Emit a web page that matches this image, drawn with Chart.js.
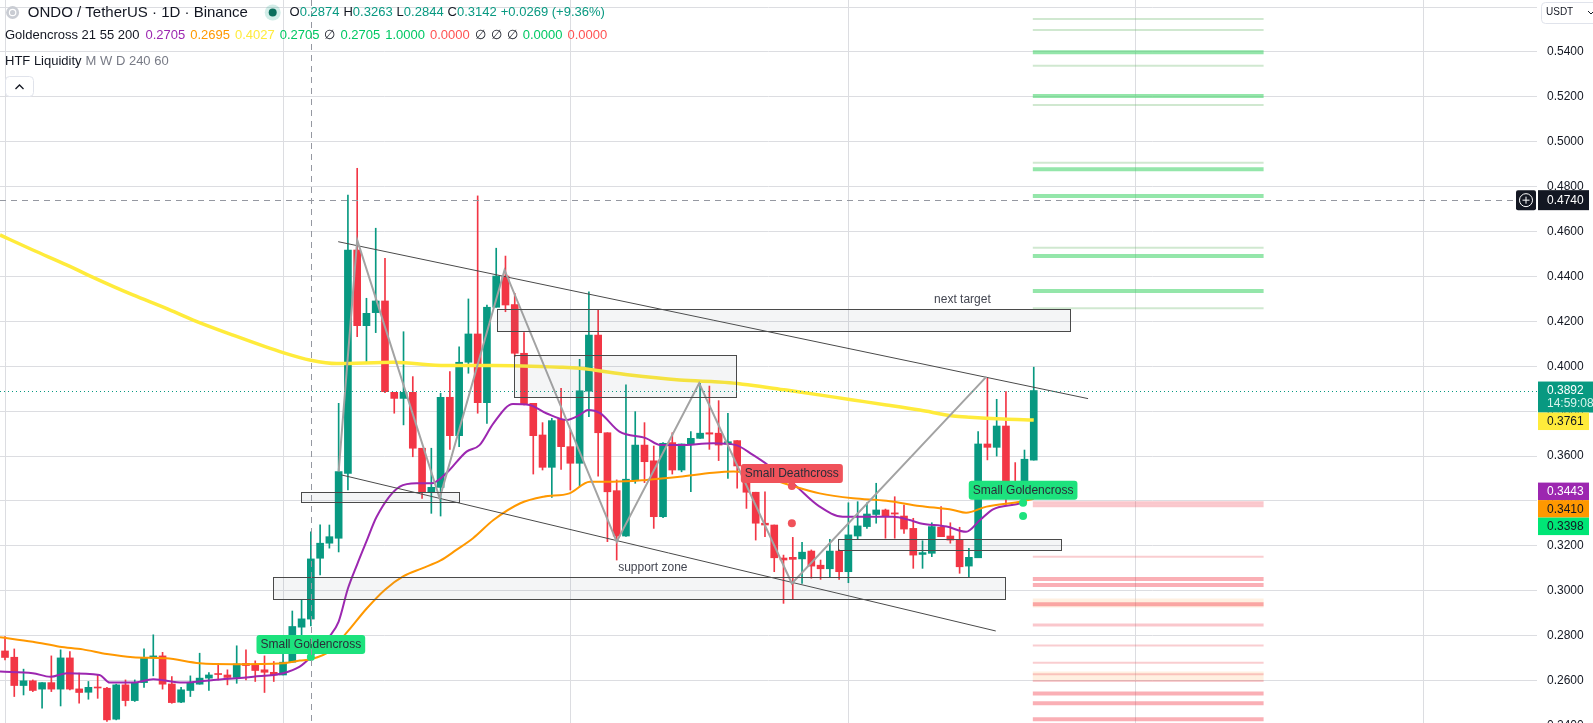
<!DOCTYPE html>
<html lang="en">
<head>
<meta charset="UTF-8">
<title>ONDO / TetherUS 1D</title>
<script src="https://cdn.jsdelivr.net/npm/chart.js@4.4.1/dist/chart.umd.min.js"></script>
<style>
  html, body { margin: 0; padding: 0; background: #fff; }
  canvas { display: block; }
</style>
</head>
<body>
<canvas id="chart" width="1593" height="723"></canvas>
<script>
// daily candles, index 0 = first visible day
const opens = [
  .2732,.2704,.2578,.2599,.2562,.2591,.2562,.2701,.2563,.2548,
  .2570,.2566,.2428,.2581,.2511,.2591,.2701,.2710,.2585,.2504,
  .2556,.2584,.2611,.2630,.2625,.2614,.2677,.2673,.2648,.2637,
  .2625,.2682,.2838,.2874,.3145,.3212,.3234,.3523,.4518,.4181,
  .4239,.4291,.3884,.3857,.3884,.3635,.3441,.3461,.3862,.3691,
  .4018,.4144,.3838,.4263,.4402,.4275,.4058,.3835,.3694,.3550,
  .3764,.3642,.3568,.3889,.4139,.3704,.3446,.3244,.3494,.3649,
  .3579,.3330,.3660,.3538,.3651,.3679,.3704,.3702,.3654,.3669,
  .3560,.3439,.3301,.3293,.3146,.3149,.3142,.3177,.3114,.3098,
  .3177,.3085,.3244,.3286,.3340,.3360,.3347,.3333,.3278,.3162,
  .3167,.3283,.3244,.3229,.3110,.3147,.3654,.3639,.3734,.3471,
  .3467,.3582];
const highs = [
  .2796,.2741,.2651,.2603,.2591,.2710,.2737,.2729,.2633,.2596,
  .2625,.2570,.2584,.2603,.2603,.2741,.2804,.2726,.2618,.2570,
  .2621,.2722,.2636,.2677,.2648,.2755,.2737,.2688,.2710,.2685,
  .2719,.2910,.2960,.3263,.3294,.3293,.3835,.4763,.4882,.4303,
  .4615,.4481,.3884,.4154,.3954,.3635,.3635,.3880,.3976,.4087,
  .4300,.4759,.4273,.4526,.4491,.4325,.4150,.3835,.3749,.3768,
  .3902,.3716,.4031,.4332,.4254,.3704,.3494,.3917,.3798,.3749,
  .3645,.3660,.3704,.3654,.3709,.3924,.3912,.3847,.3791,.3669,
  .3560,.3439,.3441,.3293,.3159,.3238,.3216,.3182,.3137,.3229,
  .3182,.3392,.3397,.3392,.3479,.3364,.3419,.3382,.3323,.3223,
  .3303,.3375,.3303,.3283,.3189,.3709,.3947,.3853,.3887,.3571,
  .3627,.3996];
const lows = [
  .2692,.2529,.2536,.2551,.2477,.2551,.2487,.2559,.2499,.2517,
  .2521,.2418,.2425,.2487,.2507,.2570,.2621,.2562,.2499,.2502,
  .2529,.2584,.2556,.2603,.2581,.2588,.2603,.2596,.2547,.2596,
  .2625,.2682,.2781,.2844,.3071,.3190,.3173,.3449,.4132,.4020,
  .4150,.3882,.3791,.3739,.3597,.3412,.3345,.3333,.3630,.3642,
  .3969,.3791,.3746,.4263,.4243,.4043,.3828,.3520,.3538,.3416,
  .3541,.3449,.3464,.3776,.3511,.3219,.3137,.3242,.3479,.3482,
  .3278,.3326,.3520,.3530,.3441,.3679,.3630,.3580,.3501,.3457,
  .3367,.3226,.3241,.3085,.2944,.2962,.3033,.3056,.3051,.3060,
  .3051,.3036,.3229,.3278,.3301,.3234,.3234,.3256,.3100,.3100,
  .3152,.3241,.3212,.3078,.3063,.3147,.3583,.3600,.3382,.3419,
  .3397,.3582];
const closes = [
  .2703,.2578,.2599,.2556,.2591,.2562,.2701,.2562,.2547,.2570,
  .2567,.2425,.2581,.2511,.2588,.2701,.2710,.2584,.2502,.2559,
  .2588,.2611,.2625,.2627,.2614,.2674,.2667,.2645,.2637,.2625,
  .2682,.2841,.2875,.3142,.3212,.3241,.3531,.4518,.4181,.4236,
  .4291,.3887,.3857,.3884,.3635,.3441,.3461,.3862,.3691,.4018,
  .4144,.3838,.4263,.4402,.4273,.4058,.3832,.3691,.3550,.3758,
  .3642,.3568,.3891,.4139,.3704,.3441,.3244,.3497,.3649,.3575,
  .3330,.3657,.3538,.3654,.3679,.3702,.3698,.3649,.3664,.3556,
  .3439,.3301,.3293,.3147,.3137,.3140,.3172,.3110,.3098,.3177,
  .3085,.3249,.3289,.3342,.3360,.3333,.3342,.3275,.3159,.3170,
  .3286,.3241,.3226,.3107,.3149,.3654,.3639,.3734,.3467,.3452,
  .3586,.3892];

// moving averages (candle index, price)
const ma21Idx = [-0.54,3,4.9,6.7,10.2,11.3,13.8,16,19.2,22.5,26.8,30,31.8,33,34,35,36,37,38,39,
  40.1,42.6,44.4,46,47.6,49.8,51.2,52.7,54.8,56.6,58.4,60.6,62,62.9,64.2,66.3,69.2,70.7,72.8,76.4,
  78.8,80.7,82.5,85,87.9,90.4,95.8,97.6,98.7,101.6,103.7,105.2,106.6,109.5,111];
const ma21Val = [0.2640,0.2633,0.2617,0.2633,0.2625,0.2591,0.2591,0.2606,0.2591,0.2603,0.2617,0.2633,0.2662,0.2705,0.2751,0.2796,0.2863,0.3010,0.3118,0.3220,
  0.3330,0.3464,0.3479,0.3479,0.3523,0.3620,0.3649,0.3746,0.3832,0.3828,0.3791,0.3761,0.3783,0.3805,0.3791,0.3709,0.3679,0.3649,0.3649,0.3657,
  0.3650,0.3605,0.3555,0.3479,0.3375,0.3330,0.3330,0.3315,0.3301,0.3286,0.3263,0.3315,0.3363,0.3390,0.3420];
const ma55Idx = [-0.54,3,5.9,8.4,11,13.8,17.4,21,24.6,30,31.8,33,35,37,39,41,43,45,47,48.7,
  50.5,52.7,55.6,58.1,60.9,63.1,65.6,69.2,72.8,76.4,78.6,80.7,84.3,87.9,91.5,95.1,98.7,102.3,103.7,105.9,109.5,111];
const ma55Val = [0.2793,0.2773,0.2751,0.2739,0.2718,0.2704,0.2699,0.2677,0.2673,0.2677,0.2689,0.2695,0.2730,0.2820,0.2920,0.3005,0.3065,0.3100,0.3135,0.3182,
  0.3234,0.3315,0.3390,0.3419,0.3434,0.3486,0.3486,0.3494,0.3508,0.3526,0.3531,0.3523,0.3476,0.3434,0.3412,0.3401,0.3378,0.3360,0.3348,0.3375,0.3397,0.3410];
const ma200Idx = [-0.54,3,6.7,9.2,13.8,17.4,20.3,24.6,30,33,35.8,41.9,47.6,52.7,59.9,62,67.4,72.8,78.2,84.3,91.5,95.1,98.7,102.3,104.1,107.7,111];
const ma200Val = [0.4585,0.4518,0.4451,0.4402,0.4318,0.4258,0.4206,0.4139,0.4061,0.4027,0.4012,0.4018,0.4003,0.4004,0.3996,0.3991,0.3961,0.3939,0.3927,0.3894,0.3850,0.3828,0.3805,0.3779,0.3773,0.3765,0.3761];

// drawings
const chanUpIdx = [35.95, 116.86], chanUpVal = [0.4555, 0.3856];
const chanLoIdx = [36.3, 106.9], chanLoVal = [0.3516, 0.2821];
const zigIdx = [36, 38, 46.9, 53.9, 66, 74.9, 84.9, 105.9];
const zigVal = [0.3531, 0.4563, 0.3412, 0.4429, 0.3219, 0.3924, 0.3033, 0.3954];
const boxLeft = [53.04, 54.9, 31.9, 28.9, 89.9];
const boxRight = [114.96, 78.9, 49.0, 107.95, 113.9];
const boxTop = [0.4254, 0.4049, 0.3441, 0.3060, 0.3229];
const boxBottom = [0.4157, 0.3862, 0.3394, 0.2962, 0.3182];
const noteText = ['next target', 'support zone'];
const noteIdx = [103.3, 69.9];
const notePrice = [0.4254, 0.3060];

// signals
const sigText = ['Small Goldencross', 'Small Deathcross', 'Small Goldencross'];
const sigIdx = [33, 84.9, 109.85];
const sigPrice = [0.2705, 0.3467, 0.3392];
const sigPrice2 = [null, 0.3301, 0.3333];
const sigUp = [true, false, true];

// HTF liquidity levels
const liqFrom = 110.9, liqTo = 135.8;
const greenStrong = [0.5399, 0.5204, 0.4878, 0.4759, 0.4491, 0.4335];
const greenWeak = [0.5547, 0.5498, 0.5339, 0.5164, 0.4907, 0.4528, 0.4258];
const redStrong = [0.3053, 0.3026, 0.2940, 0.2543, 0.2499, 0.2428];
const redMid = [0.3392, 0.3379, 0.2848];
const redWeak = [0.3152, 0.2756, 0.2680, 0.2628, 0.2598];
const peachBands = [0.2946, 0.2621];

// axes
const monthStarts = [0, 30, 61, 91, 122, 153];
const priceTicks = [0.24,0.26,0.28,0.30,0.32,0.34,0.36,0.38,0.40,0.42,0.44,0.46,0.48,0.50,0.52,0.54,0.56];
const crossIdx = 33, crossPrice = 0.4740;
const lastPrice = 0.3892, countdown = '14:59:08';

const UP = '#089981', DOWN = '#f23645';
const FONT = '"Liberation Sans", Arial, sans-serif';
const f = (s, w) => (w || 'normal') + ' ' + s + 'px ' + FONT;

const candleColors = closes.map((c, i) => c >= opens[i] ? UP : DOWN);

function lineDs(idx, val, color, width, order, extra) {
  return Object.assign({
    type: 'line',
    data: idx.map((v, k) => ({ x: v, y: val[k] })),
    borderColor: color, borderWidth: width,
    pointRadius: 0, fill: false, order: order
  }, extra || {});
}

const datasets = [];
greenWeak.forEach(p => datasets.push(lineDs([liqFrom, liqTo], [p, p], 'rgba(120,190,120,0.35)', 2, 20)));
greenStrong.forEach(p => datasets.push(lineDs([liqFrom, liqTo], [p, p], 'rgba(60,210,100,0.55)', 4, 20)));
peachBands.forEach(p => datasets.push(lineDs([liqFrom, liqTo], [p, p], 'rgba(255,170,90,0.18)', 9, 21)));
redWeak.forEach(p => datasets.push(lineDs([liqFrom, liqTo], [p, p], 'rgba(235,90,100,0.3)', 2, 20)));
redMid.forEach(p => datasets.push(lineDs([liqFrom, liqTo], [p, p], 'rgba(240,70,85,0.3)', 3, 20)));
redStrong.forEach(p => datasets.push(lineDs([liqFrom, liqTo], [p, p], 'rgba(242,54,69,0.4)', 4, 20)));

datasets.push({
  type: 'bar', order: 6, grouped: false, barThickness: 1,
  data: lows.map((l, i) => ({ x: i, y: [l, highs[i]] })),
  backgroundColor: candleColors
});
datasets.push({
  type: 'bar', order: 5, grouped: false, barThickness: 7, minBarLength: 1,
  data: opens.map((o, i) => ({ x: i, y: [o, closes[i]] })),
  backgroundColor: candleColors
});
datasets.push(lineDs(ma200Idx, ma200Val, '#ffeb3b', 3.5, 3, { cubicInterpolationMode: 'monotone' }));
datasets.push(lineDs(ma55Idx, ma55Val, '#ff9800', 2, 3, { cubicInterpolationMode: 'monotone' }));
datasets.push(lineDs(ma21Idx, ma21Val, '#9c27b0', 2, 3, { cubicInterpolationMode: 'monotone' }));
datasets.push(lineDs(chanUpIdx, chanUpVal, '#4a4a4a', 1, 2));
datasets.push(lineDs(chanLoIdx, chanLoVal, '#4a4a4a', 1, 2));
datasets.push(lineDs(zigIdx, zigVal, '#a3a3a3', 2, 1));

function rrect(ctx, x, y, w, h, r) {
  ctx.beginPath();
  ctx.moveTo(x + r, y);
  ctx.arcTo(x + w, y, x + w, y + h, r);
  ctx.arcTo(x + w, y + h, x, y + h, r);
  ctx.arcTo(x, y + h, x, y, r);
  ctx.arcTo(x, y, x + w, y, r);
  ctx.closePath();
}

const overlay = {
  id: 'overlay',
  afterDatasetsDraw(chart) {
    const { ctx, chartArea: a, scales: { x, y } } = chart;
    ctx.save();
    ctx.beginPath();
    ctx.rect(a.left, a.top, a.right - a.left, a.bottom - a.top);
    ctx.clip();

    // rectangles
    for (let k = 0; k < boxLeft.length; k++) {
      const x0 = Math.round(x.getPixelForValue(boxLeft[k])) + 0.5;
      const x1 = Math.round(x.getPixelForValue(boxRight[k])) + 0.5;
      const y0 = Math.round(y.getPixelForValue(boxTop[k])) + 0.5;
      const y1 = Math.round(y.getPixelForValue(boxBottom[k])) + 0.5;
      ctx.fillStyle = 'rgba(120,123,134,0.08)';
      ctx.fillRect(x0, y0, x1 - x0, y1 - y0);
      ctx.strokeStyle = '#4a4a4a';
      ctx.lineWidth = 1;
      ctx.strokeRect(x0, y0, x1 - x0, y1 - y0);
    }
    // box notes
    ctx.font = f(12);
    ctx.fillStyle = '#434651';
    ctx.textAlign = 'center';
    ctx.textBaseline = 'middle';
    noteText.forEach((t, k) => {
      ctx.fillText(t, x.getPixelForValue(noteIdx[k]), y.getPixelForValue(notePrice[k]) - 10);
    });

    // last price line
    const yl = Math.round(y.getPixelForValue(lastPrice)) + 0.5;
    ctx.strokeStyle = UP;
    ctx.lineWidth = 1;
    ctx.setLineDash([1, 3]);
    ctx.beginPath(); ctx.moveTo(a.left, yl); ctx.lineTo(a.right, yl); ctx.stroke();

    // signal labels
    ctx.setLineDash([]);
    ctx.font = f(12);
    sigText.forEach((t, k) => {
      const px = x.getPixelForValue(sigIdx[k]);
      const py = y.getPixelForValue(sigPrice[k]);
      const col = sigUp[k] ? '#1de27d' : '#f0525a';
      ctx.fillStyle = col;
      if (sigPrice2[k] !== null) {
        ctx.beginPath(); ctx.arc(px, y.getPixelForValue(sigPrice2[k]), 4, 0, Math.PI * 2); ctx.fill();
      }
      ctx.beginPath(); ctx.arc(px, py, 4, 0, Math.PI * 2); ctx.fill();
      const w = ctx.measureText(t).width + 8, h = 19;
      const bx = px - w / 2, by = py - 3 - h;
      rrect(ctx, bx, by, w, h, 3);
      ctx.fill();
      ctx.fillStyle = '#2a2e39';
      ctx.textAlign = 'center';
      ctx.textBaseline = 'middle';
      ctx.fillText(t, px, by + h / 2 + 0.5);
    });

    // crosshair
    ctx.strokeStyle = '#9598a1';
    ctx.lineWidth = 1;
    ctx.setLineDash([6, 5]);
    const cx = Math.round(x.getPixelForValue(crossIdx)) + 0.5;
    const cy = Math.round(y.getPixelForValue(crossPrice)) + 0.5;
    ctx.beginPath(); ctx.moveTo(cx, a.top); ctx.lineTo(cx, a.bottom); ctx.stroke();
    ctx.beginPath(); ctx.moveTo(a.left, cy); ctx.lineTo(a.right, cy); ctx.stroke();
    ctx.restore();
  },
  afterDraw(chart) {
    const { ctx, chartArea: a, scales: { y } } = chart;
    ctx.save();
    ctx.textBaseline = 'middle';
    ctx.textAlign = 'left';
    const tx = a.right + 10;

    // price tags on the axis
    const tags = [
      { v: lastPrice, bg: UP, fg: '#ffffff', h: 31, two: true },
      { v: ma200Val[ma200Val.length - 1], bg: '#ffeb3b', fg: '#131722', h: 17.5 },
      { v: 0.3443, bg: '#9c27b0', fg: '#ffffff', h: 17.5 },
      { v: ma55Val[ma55Val.length - 1], bg: '#ff9800', fg: '#131722', h: 17.5 },
      { v: 0.3398, bg: '#00e676', fg: '#131722', h: 17.5 }
    ];
    let prevBottom = -1e9;
    ctx.font = f(12);
    tags.forEach(t => {
      const yc = y.getPixelForValue(t.v);
      let top = t.two ? yc - 9 : yc - t.h / 2;
      if (top < prevBottom) top = prevBottom;
      prevBottom = top + t.h;
      ctx.fillStyle = t.bg;
      ctx.fillRect(a.right + 1, top, t.two ? 56 : 51, t.h);
      ctx.fillStyle = t.fg;
      if (t.two) {
        ctx.fillText(t.v.toFixed(4), tx, top + 9);
        ctx.fillStyle = '#d8f3ec';
        ctx.fillText(countdown, tx, top + 22);
      } else {
        ctx.fillText(t.v.toFixed(4), tx, top + t.h / 2 + 0.5);
      }
    });

    // crosshair tag
    const cy = y.getPixelForValue(crossPrice);
    ctx.fillStyle = '#131722';
    ctx.fillRect(a.right + 1, cy - 10, 51, 20);
    rrect(ctx, a.right - 21, cy - 10, 20, 20, 2);
    ctx.fill();
    ctx.fillStyle = '#ffffff';
    ctx.fillText(crossPrice.toFixed(4), tx, cy + 0.5);
    ctx.strokeStyle = '#ffffff';
    ctx.lineWidth = 1;
    const ix = a.right - 11, iy = cy;
    ctx.beginPath(); ctx.arc(ix, iy, 6.5, 0, Math.PI * 2); ctx.stroke();
    ctx.beginPath(); ctx.moveTo(ix - 3.5, iy); ctx.lineTo(ix + 3.5, iy); ctx.moveTo(ix, iy - 3.5); ctx.lineTo(ix, iy + 3.5); ctx.stroke();

    // currency box (covers the top tick label)
    ctx.fillStyle = '#ffffff';
    ctx.fillRect(a.right + 1, 0, 1593 - a.right, 24);
    rrect(ctx, a.right + 4.5, 2.5, 70, 21, 4);
    ctx.fill();
    ctx.strokeStyle = '#e0e3eb';
    ctx.stroke();
    ctx.fillStyle = '#131722';
    ctx.font = f(10);
    ctx.fillText('USDT', a.right + 9, 12.5);
    ctx.strokeStyle = '#131722';
    ctx.beginPath(); ctx.moveTo(1588, 11); ctx.lineTo(1591, 14); ctx.lineTo(1594, 11); ctx.stroke();

    // legend
    let lx = 0;
    const seg = (txt, color, size, gap) => {
      ctx.font = f(size);
      ctx.fillStyle = color;
      ctx.fillText(txt, lx, ly);
      lx += ctx.measureText(txt).width + (gap || 0);
    };
    let ly = 12.5;
    ctx.fillStyle = '#c9ccd3';
    ctx.beginPath(); ctx.arc(12.6, ly, 6.5, 0, Math.PI * 2); ctx.fill();
    ctx.strokeStyle = '#ffffff'; ctx.lineWidth = 1.2;
    ctx.beginPath(); ctx.arc(12.6, ly, 3.2, 0, Math.PI * 2); ctx.stroke();
    lx = 27.8;
    seg('ONDO / TetherUS · 1D · Binance', '#131722', 15);
    ctx.fillStyle = 'rgba(8,153,129,0.18)';
    ctx.beginPath(); ctx.arc(272.7, ly, 8, 0, Math.PI * 2); ctx.fill();
    ctx.fillStyle = '#0b6e5c';
    ctx.beginPath(); ctx.arc(272.7, ly, 4, 0, Math.PI * 2); ctx.fill();
    lx = 289.6;
    const ohlc = [['O', opens[crossIdx]], ['H', highs[crossIdx]], ['L', lows[crossIdx]], ['C', closes[crossIdx]]];
    ohlc.forEach(p => { seg(p[0], '#131722', 13); seg(p[1].toFixed(4), UP, 13, 4); });
    seg('+0.0269 (+9.36%)', UP, 13);

    ly = 35;
    lx = 5;
    seg('Goldencross 21 55 200', '#131722', 13, 6);
    const ind = [['0.2705', '#9c27b0'], ['0.2695', '#ff9800'], ['0.4027', '#ffeb3b'], ['0.2705', '#00c864'],
      ['\u2205', '#131722'], ['0.2705', '#00c864'], ['1.0000', '#00c864'], ['0.0000', '#ff5252'],
      ['\u2205', '#131722'], ['\u2205', '#131722'], ['\u2205', '#131722'], ['0.0000', '#00c864'], ['0.0000', '#ff5252']];
    ind.forEach(p => seg(p[0], p[1], 13, 5));

    ly = 61;
    lx = 5;
    seg('HTF Liquidity', '#131722', 13, 4);
    seg('M W D 240 60', '#787b86', 13);

    // collapse button
    ctx.fillStyle = '#ffffff';
    rrect(ctx, 5.5, 76.5, 28, 20, 4);
    ctx.fill();
    ctx.strokeStyle = '#e0e3eb';
    ctx.lineWidth = 1;
    ctx.stroke();
    ctx.strokeStyle = '#131722';
    ctx.lineWidth = 1.3;
    ctx.beginPath(); ctx.moveTo(15.5, 89); ctx.lineTo(19.5, 85); ctx.lineTo(23.5, 89); ctx.stroke();
    ctx.restore();
  }
};

new Chart(document.getElementById('chart'), {
  type: 'bar',
  data: { datasets: datasets },
  options: {
    responsive: false,
    animation: false,
    devicePixelRatio: 1,
    events: [],
    layout: { padding: 0 },
    plugins: { legend: { display: false }, tooltip: { enabled: false } },
    scales: {
      x: {
        type: 'linear', min: -0.54, max: 165.3, offset: false,
        grid: { color: '#dcdde1', drawTicks: false, offset: false },
        border: { display: false },
        ticks: { display: false },
        afterBuildTicks: s => { s.ticks = monthStarts.map(v => ({ value: v })); },
        afterFit: s => { s.height = 0; s.paddingLeft = 0; s.paddingRight = 0; }
      },
      y: {
        position: 'right', min: 0.24111, max: 0.56316,
        grid: { color: '#dcdde1', drawTicks: false },
        border: { display: false },
        ticks: {
          padding: 10, color: '#131722',
          font: { family: FONT, size: 12 },
          callback: v => Number(v).toFixed(4)
        },
        afterBuildTicks: s => { s.ticks = priceTicks.map(v => ({ value: v })); },
        afterFit: s => { s.width = 56; s.paddingTop = 0; s.paddingBottom = 0; }
      }
    }
  },
  plugins: [overlay]
});
</script>
</body>
</html>
